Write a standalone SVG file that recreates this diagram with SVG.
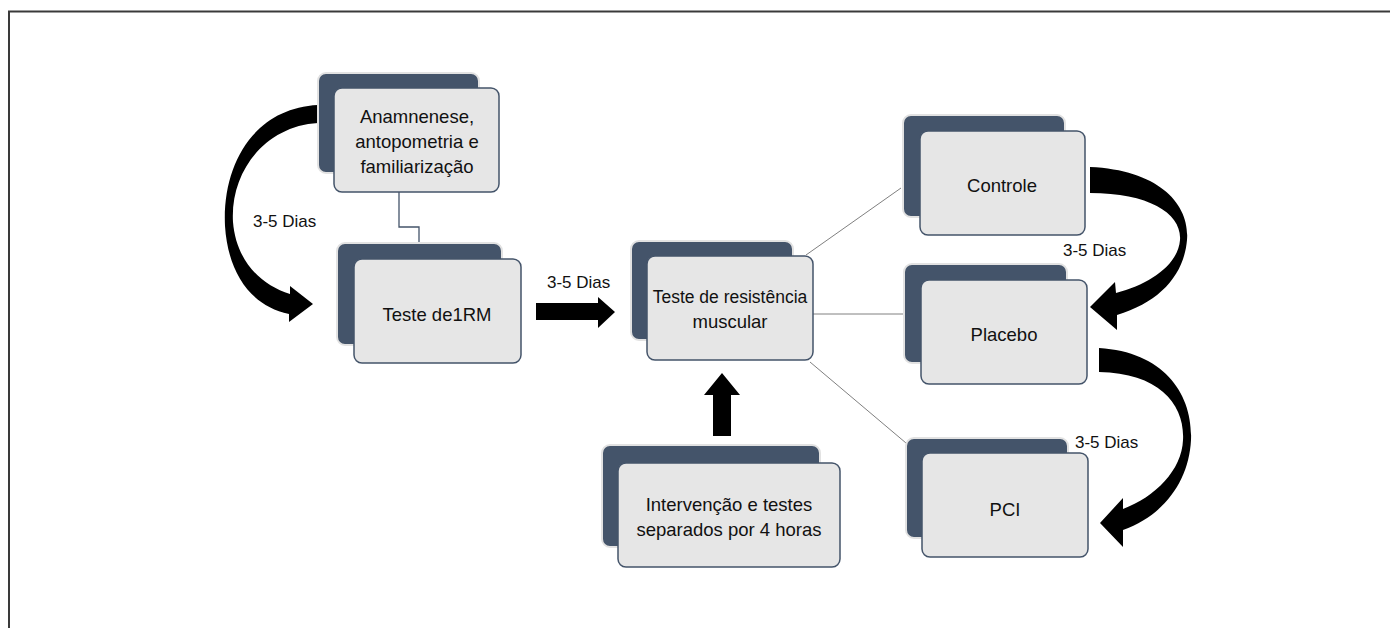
<svg xmlns="http://www.w3.org/2000/svg" width="1390" height="628" viewBox="0 0 1390 628">
<style>
.back{fill:#44546a;stroke:#e2e2e2;stroke-width:2}
.front{fill:#e6e6e6;stroke:#44546a;stroke-width:1.5}
.t{font-family:"Liberation Sans",Arial,sans-serif;font-size:18.5px;fill:#111;text-anchor:middle}
.lbl{font-family:"Liberation Sans",Arial,sans-serif;font-size:17px;fill:#111}
.thin{stroke:#808080;stroke-width:1;fill:none}
.big{fill:#000}
</style>
<rect width="1390" height="628" fill="#fff"/>
<polyline points="9,628 9,11.5 1390,11.5" fill="none" stroke="#3a3a3a" stroke-width="2"/>

<g id="connectors">
<path d="M399,192 V227 H419 V243" fill="none" stroke="#44546a" stroke-width="1.3"/>
<line class="thin" x1="806" y1="255" x2="901" y2="188"/>
<line class="thin" x1="813" y1="314" x2="921" y2="314"/>
<line class="thin" x1="810" y1="362" x2="906" y2="443"/>
<path class="big" d="M318,105 L318,123 C265,126 230,172 233,222 C236,260 260,285 290,294 L290,286 L313,304 L289,322 L289,314 C250,306 228,272 225,226 C222,163 255,108 318,105 Z"/>
<polygon class="big" points="536,303 598,303 598,297 615,312 598,328 598,320 536,320"/>
<polygon class="big" points="713,436 713,395 704,395 722,373 740,395 731,395 731,436"/>
<path class="big" d="M1090,167 C1160,170 1190,205 1187,240 C1184,275 1160,302 1117,315 L1117,330 L1090,307 L1115,282 L1116,293 C1150,284 1178,265 1180,240 C1182,214 1150,193 1090,193 Z"/>
<path class="big" d="M1099,348 C1165,352 1193,395 1191,440 C1189,480 1165,515 1123,530 L1123,547 L1100,523 L1123,498 L1123,509 C1155,497 1182,470 1183,440 C1185,405 1160,373 1099,372 Z"/>
</g>

<g id="lbl-left"><text class="lbl" x="253" y="227">3-5 Dias</text></g>
<g id="lbl-mid"><text class="lbl" x="547" y="288">3-5 Dias</text></g>

<g id="n1">
<rect class="back" x="318" y="73" width="161" height="100" rx="8"/>
<rect class="front" x="334" y="88" width="165" height="104" rx="8"/>
<text class="t" x="417" y="123">Anamnenese,</text>
<text class="t" x="417" y="148">antopometria e</text>
<text class="t" x="417" y="173">familiarização</text>
</g>
<g id="n2">
<rect class="back" x="337" y="243" width="165" height="102" rx="8"/>
<rect class="front" x="354" y="259" width="167" height="104" rx="8"/>
<text class="t" x="437" y="321">Teste de1RM</text>
</g>
<g id="n3">
<rect class="back" x="631" y="241" width="162" height="99" rx="8"/>
<rect class="front" x="647" y="256" width="166" height="104" rx="8"/>
<text class="t" x="730" y="303" style="font-size:17.5px">Teste de resistência</text>
<text class="t" x="730" y="328">muscular</text>
</g>
<g id="n4">
<rect class="back" x="602" y="445" width="218" height="102" rx="8"/>
<rect class="front" x="618" y="463" width="222" height="104" rx="8"/>
<text class="t" x="729" y="511">Intervenção e testes</text>
<text class="t" x="729" y="536">separados por 4 horas</text>
</g>
<g id="n5">
<rect class="back" x="903" y="115" width="162" height="102" rx="8"/>
<rect class="front" x="920" y="131" width="165" height="104" rx="8"/>
<text class="t" x="1002" y="192">Controle</text>
</g>
<g id="n6">
<rect class="back" x="904" y="264" width="163" height="99" rx="8"/>
<rect class="front" x="921" y="280" width="166" height="104" rx="8"/>
<text class="t" x="1004" y="341">Placebo</text>
</g>
<g id="n7">
<rect class="back" x="906" y="438" width="162" height="100" rx="8"/>
<rect class="front" x="922" y="453" width="166" height="104" rx="8"/>
<text class="t" x="1005" y="516">PCI</text>
</g>

<g id="lbl-right1"><rect x="1056" y="236" width="76" height="24" fill="#fff"/><text class="lbl" x="1063" y="256">3-5 Dias</text></g>
<g id="lbl-right2"><text class="lbl" x="1075" y="448">3-5 Dias</text></g>
</svg>
